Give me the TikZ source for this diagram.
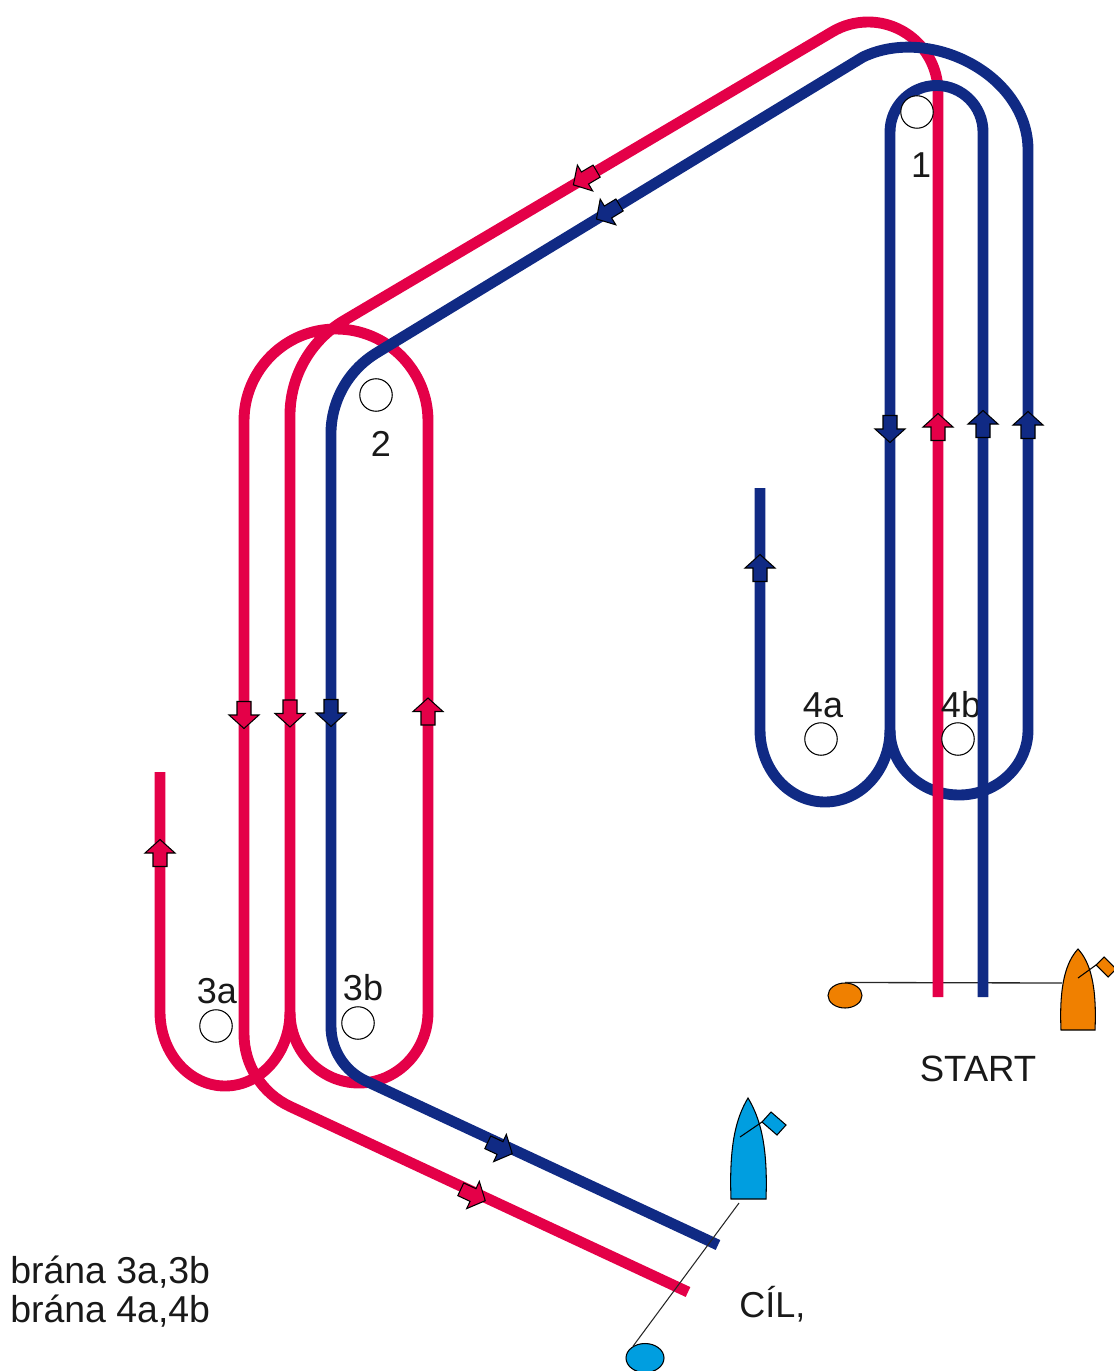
\documentclass[tikz,border=0pt]{standalone}
\usepackage{fontspec}
\setmainfont{Liberation Sans}
\usetikzlibrary{shapes.geometric}

\definecolor{coursered}{RGB}{228,0,72}
\definecolor{courseblue}{RGB}{16,42,132}
\definecolor{startorange}{RGB}{240,128,0}
\definecolor{finishblue}{RGB}{0,158,224}

\tikzset{
	course/.style={line width=6.2pt},
	redcourse/.style={course, draw=coursered},
	bluecourse/.style={course, draw=courseblue},
	turnmark/.style={circle, draw=black, fill=white, line width=0.6pt, minimum size=0.65cm, inner sep=0pt},
	tag/.style={inner sep=0pt, text=black!90, font=\fontsize{20.5}{24}\selectfont},
	boat/.style={draw=black, line width=0.6pt},
	heading/.pic={\filldraw[draw=black, line width=0.6pt, pic actions] (-13.5,-7) -- (0,-7) -- (0,-15) -- (13.5,0) -- (0,15) -- (0,7) -- (-13.5,7) -- cycle;}
}

\begin{document}
\begin{tikzpicture}[x=0.02cm, y=-0.02cm]

	\useasboundingbox (0,0) rectangle (1113,1371);

	\node[ellipse, boat, fill=startorange, minimum width=0.68cm, minimum height=0.5cm, inner sep=0pt] (startbuoy) at (845,995.5) {};
	\coordinate (startboat) at (1062,983);
	\draw[line width=0.75pt, black!85] (startbuoy.north) -- (startboat);

	\draw[bluecourse] (890,730) arc[start angle=180, end angle=0, x radius=69, y radius=65];

	\draw[redcourse] (938,997) -- (938,92) arc[start angle=0, end angle=-120.6, radius=70] -- (344,320.6) arc[start angle=239.4, end angle=180, radius=110] -- (290,1012) arc[start angle=180, end angle=0, x radius=69, y radius=71] -- (428,421) arc[start angle=0, end angle=-180, radius=92] -- (244,1034) arc[start angle=180, end angle=115, radius=80] -- (688,1292);
	\draw[redcourse] (160,772) -- (160,1012) arc[start angle=180, end angle=0, x radius=65, y radius=74];

	\node[tag, anchor=base] (t1) at (921,178) {1};
	\node[tag, anchor=base] (t2) at (381,456) {2};
	\node[tag, anchor=base] (t3a) at (217,1003) {3a};
	\node[tag, anchor=base] (t3b) at (363,1000) {3b};
	\node[tag, anchor=base] (t4a) at (823,717) {4a};
	\node[tag, anchor=base] (t4b) at (961,717) {4b};

	\draw[bluecourse] (983,997) -- (983,132) arc[start angle=0, end angle=-180, radius=46.5] -- (890,730);
	\draw[bluecourse] (1028,730) -- (1028,150) .. controls (1028,75) and (930,25) .. (863,57) -- (376.6,352.9) arc[start angle=238.7, end angle=180, radius=95] -- (331,1026.5) arc[start angle=180, end angle=115, radius=60] -- (718,1245);
	\draw[bluecourse] (760,488) -- (760,730) arc[start angle=180, end angle=0, x radius=65, y radius=72];

	\pic[rotate=90, fill=coursered] at (938,427) {heading};
	\pic[rotate=90, fill=coursered] at (428,711.5) {heading};
	\pic[rotate=90, fill=coursered] at (160,853) {heading};
	\pic[rotate=-90, fill=coursered] at (244,715) {heading};
	\pic[rotate=-90, fill=coursered] at (290,713.5) {heading};
	\pic[rotate=210.6, fill=coursered] at (585,178) {heading};
	\pic[rotate=-25, fill=coursered] at (473,1195) {heading};

	\pic[rotate=-90, fill=courseblue] at (890,429) {heading};
	\pic[rotate=-90, fill=courseblue] at (331,713) {heading};
	\pic[rotate=90, fill=courseblue] at (983,424) {heading};
	\pic[rotate=90, fill=courseblue] at (1028,425) {heading};
	\pic[rotate=90, fill=courseblue] at (760,568) {heading};
	\pic[rotate=211.3, fill=courseblue] at (608,212) {heading};
	\pic[rotate=-25, fill=courseblue] at (500,1148) {heading};

	\node[turnmark] (m1) at (917,112) {};
	\node[turnmark] (m2) at (376,395) {};
	\node[turnmark] (m3a) at (216,1026) {};
	\node[turnmark] (m3b) at (358,1023) {};
	\node[turnmark] (m4a) at (821,739) {};
	\node[turnmark] (m4b) at (958,739) {};

	\filldraw[boat, fill=startorange] (1061,1030) .. controls (1059,985) and (1066,962) .. (1078,949) .. controls (1090,962) and (1097,985) .. (1095,1030) -- cycle;
	\draw[boat] (1078,978) -- (1096,965);
	\filldraw[boat, fill=startorange] (1096,965) -- (1104,957) -- (1116,969) -- (1108,977) -- cycle;
	\node[tag, anchor=base, font=\fontsize{20.8}{24}\selectfont] (start) at (978,1081) {START};

	\filldraw[boat, fill=finishblue] (731,1199) .. controls (729,1145) and (736,1118) .. (748,1098) .. controls (760,1118) and (768,1145) .. (766,1199) -- cycle;
	\draw[boat] (740,1137) -- (762,1122);
	\filldraw[boat, fill=finishblue] (762,1122) -- (771,1112) -- (786,1125) -- (777,1135) -- cycle;
	\coordinate (finishboat) at (739,1203);
	\node[ellipse, boat, fill=finishblue, minimum width=0.76cm, minimum height=0.58cm, inner sep=0pt] (finishbuoy) at (645,1358) {};
	\draw[line width=0.6pt, black!85] (finishboat) -- (finishbuoy.135);
	\node[tag, anchor=base west] (finish) at (739,1317) {CÍL,};

	\node[tag, anchor=base west, font=\fontsize{21.3}{24}\selectfont] (gate3) at (10,1283) {brána 3a,3b};
	\node[tag, anchor=base west, font=\fontsize{21.3}{24}\selectfont] (gate4) at (10,1322) {brána 4a,4b};

\end{tikzpicture}
\end{document}
